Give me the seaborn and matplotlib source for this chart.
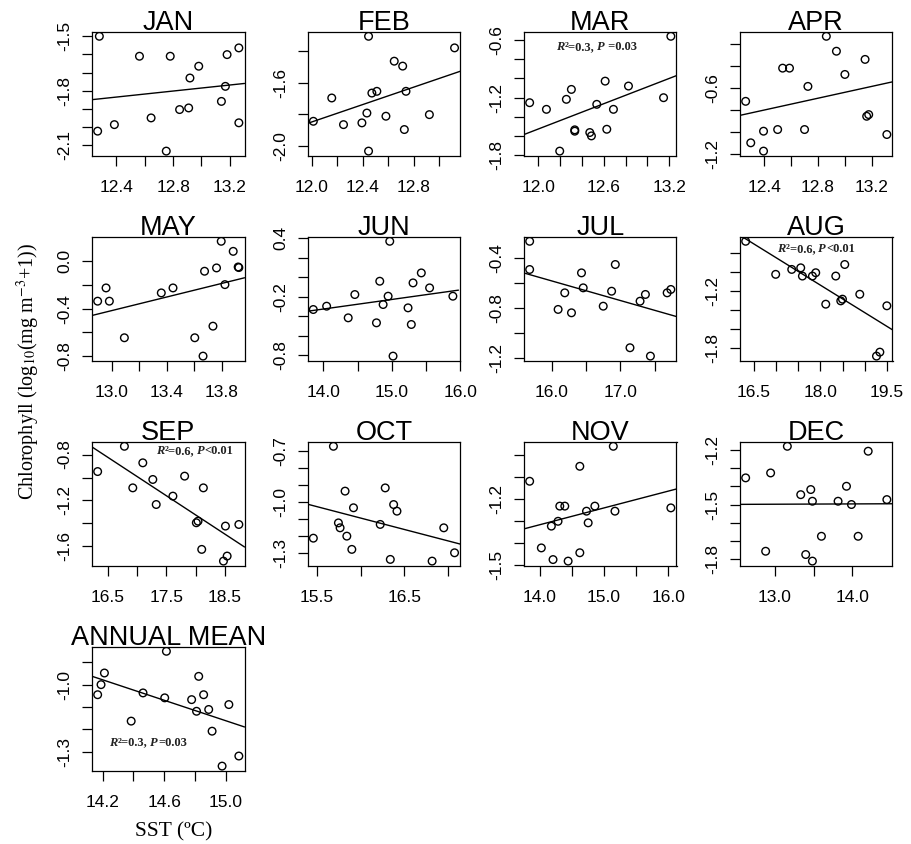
import numpy as np
import pandas as pd
import matplotlib
matplotlib.use("Agg")
import matplotlib.pyplot as plt
import seaborn as sns

sns.set_theme(style="white")
plt.rcParams['font.family'] = ['Liberation Sans', 'DejaVu Sans']
plt.rcParams['mathtext.fontset'] = 'stix'

# ---------------- data (SST in degC, chlorophyll log10(mg m-3 + 1)) ----------------
panels = ["JAN", "FEB", "MAR", "APR", "MAY", "JUN", "JUL", "AUG",
          "SEP", "OCT", "NOV", "DEC", "ANNUAL MEAN"]

jan_sst = [12.280, 12.268, 12.386, 12.563, 12.645, 12.752, 12.780, 12.846, 12.910, 12.919, 12.981, 13.141, 13.169, 13.181, 13.264, 13.264]
jan_chl = [-1.500, -2.023, -1.987, -1.610, -1.950, -2.133, -1.610, -1.904, -1.895, -1.730, -1.665, -1.859, -1.776, -1.601, -1.564, -1.977]

feb_sst = [12.013, 12.157, 12.249, 12.393, 12.432, 12.445, 12.445, 12.471, 12.510, 12.581, 12.646, 12.712, 12.725, 12.738, 12.921, 13.118]
feb_chl = [-1.843, -1.696, -1.864, -1.853, -1.791, -1.307, -2.031, -1.665, -1.654, -1.811, -1.464, -1.495, -1.895, -1.654, -1.801, -1.380]

mar_sst = [11.920, 12.074, 12.196, 12.257, 12.303, 12.334, 12.334, 12.472, 12.487, 12.536, 12.613, 12.628, 12.689, 12.827, 13.149, 13.216]
mar_chl = [-1.252, -1.321, -1.755, -1.217, -1.114, -1.534, -1.548, -1.562, -1.597, -1.269, -1.028, -1.528, -1.321, -1.079, -1.200, -0.562]

apr_sst = [12.262, 12.300, 12.395, 12.395, 12.500, 12.537, 12.588, 12.700, 12.725, 12.862, 12.937, 13.000, 13.150, 13.162, 13.177, 13.312]
apr_chl = [-0.720, -1.095, -0.990, -1.170, -0.975, -0.420, -0.420, -0.975, -0.585, -0.132, -0.267, -0.477, -0.341, -0.855, -0.840, -1.020]

may_sst = [12.898, 12.959, 12.983, 13.092, 13.360, 13.445, 13.603, 13.663, 13.674, 13.735, 13.761, 13.795, 13.822, 13.882, 13.918, 13.923]
may_chl = [-0.337, -0.225, -0.337, -0.646, -0.267, -0.225, -0.646, -0.801, -0.084, -0.548, -0.056, 0.169, -0.197, 0.084, -0.048, -0.053]

jun_sst = [13.854, 14.049, 14.364, 14.461, 14.777, 14.825, 14.874, 14.947, 14.971, 15.019, 15.238, 15.286, 15.311, 15.432, 15.553, 15.893]
jun_chl = [-0.331, -0.297, -0.416, -0.178, -0.467, -0.042, -0.280, -0.195, 0.366, -0.807, -0.314, -0.484, -0.059, 0.043, -0.110, -0.195]

jul_sst = [15.678, 15.678, 16.093, 16.190, 16.288, 16.434, 16.459, 16.751, 16.873, 16.927, 17.141, 17.288, 17.366, 17.439, 17.683, 17.737]
jul_chl = [-0.267, -0.493, -0.813, -0.680, -0.840, -0.520, -0.640, -0.787, -0.667, -0.453, -1.120, -0.747, -0.693, -1.187, -0.680, -0.653]

aug_sst = [16.312, 16.990, 17.352, 17.555, 17.593, 17.819, 17.894, 18.120, 18.346, 18.459, 18.497, 18.549, 18.888, 19.265, 19.341, 19.499]
aug_chl = [-0.676, -1.025, -0.973, -0.956, -1.043, -1.043, -1.008, -1.340, -1.043, -1.305, -1.287, -0.921, -1.235, -1.888, -1.846, -1.357]

sep_sst = [16.329, 16.786, 16.929, 17.100, 17.271, 17.329, 17.614, 17.814, 18.014, 18.043, 18.106, 18.134, 18.477, 18.511, 18.540, 18.740]
sep_chl = [-0.948, -0.728, -1.090, -0.872, -1.017, -1.235, -1.162, -0.988, -1.394, -1.380, -1.626, -1.090, -1.728, -1.423, -1.684, -1.409]

oct_sst = [15.462, 15.691, 15.748, 15.767, 15.824, 15.844, 15.901, 15.920, 16.225, 16.282, 16.340, 16.378, 16.416, 16.817, 16.950, 17.073]
oct_chl = [-1.212, -0.671, -1.122, -1.151, -0.935, -1.200, -1.278, -1.033, -1.131, -0.916, -1.337, -1.014, -1.053, -1.347, -1.151, -1.298]

nov_sst = [13.844, 14.026, 14.182, 14.208, 14.286, 14.313, 14.391, 14.443, 14.625, 14.625, 14.729, 14.755, 14.859, 15.146, 15.172, 16.042]
nov_chl = [-1.120, -1.423, -1.324, -1.476, -1.302, -1.233, -1.233, -1.483, -1.445, -1.052, -1.256, -1.309, -1.233, -0.961, -1.256, -1.241]

dec_sst = [12.627, 12.884, 12.948, 13.163, 13.335, 13.399, 13.464, 13.485, 13.485, 13.601, 13.815, 13.923, 13.987, 14.073, 14.202, 14.442]
dec_chl = [-1.353, -1.755, -1.326, -1.180, -1.445, -1.773, -1.417, -1.481, -1.809, -1.673, -1.481, -1.399, -1.499, -1.673, -1.207, -1.472]

ann_sst = [14.167, 14.189, 14.211, 14.385, 14.462, 14.603, 14.614, 14.778, 14.810, 14.824, 14.856, 14.889, 14.911, 14.976, 15.020, 15.085]
ann_chl = [-1.045, -1.000, -0.948, -1.163, -1.037, -1.059, -0.851, -1.067, -1.119, -0.963, -1.045, -1.111, -1.208, -1.364, -1.089, -1.319]

# tick positions and the subset that carries a label (as in the original R output)
x_ticks = [[12.4, 12.6, 12.8, 13.0, 13.2], [12.0, 12.2, 12.4, 12.6, 12.8, 13.0],
           [12.0, 12.2, 12.4, 12.6, 12.8, 13.0, 13.2], [12.4, 12.6, 12.8, 13.0, 13.2],
           [13.0, 13.2, 13.4, 13.6, 13.8], [14.0, 14.5, 15.0, 15.5, 16.0],
           [16.0, 16.5, 17.0, 17.5], [16.5, 17.0, 17.5, 18.0, 18.5, 19.0, 19.5],
           [16.5, 17.0, 17.5, 18.0, 18.5], [15.5, 16.0, 16.5, 17.0],
           [14.0, 14.5, 15.0, 15.5, 16.0], [13.0, 13.5, 14.0],
           [14.2, 14.4, 14.6, 14.8, 15.0]]
x_labels = [[12.4, 12.8, 13.2], [12.0, 12.4, 12.8], [12.0, 12.6, 13.2], [12.4, 12.8, 13.2],
            [13.0, 13.4, 13.8], [14.0, 15.0, 16.0], [16.0, 17.0], [16.5, 18.0, 19.5],
            [16.5, 17.5, 18.5], [15.5, 16.5], [14.0, 15.0, 16.0], [13.0, 14.0],
            [14.2, 14.6, 15.0]]
y_ticks = [[-1.5, -1.6, -1.7, -1.8, -1.9, -2.0, -2.1], [-1.4, -1.6, -1.8, -2.0],
           [-0.6, -0.8, -1.0, -1.2, -1.4, -1.6, -1.8], [-0.2, -0.4, -0.6, -0.8, -1.0, -1.2],
           [0.0, -0.2, -0.4, -0.6, -0.8], [0.4, 0.2, 0.0, -0.2, -0.4, -0.6, -0.8],
           [-0.4, -0.6, -0.8, -1.0, -1.2], [-0.8, -1.0, -1.2, -1.4, -1.6, -1.8],
           [-0.8, -1.0, -1.2, -1.4, -1.6], [-0.7, -0.8, -0.9, -1.0, -1.1, -1.2, -1.3],
           [-1.0, -1.1, -1.2, -1.3, -1.4, -1.5], [-1.2, -1.3, -1.4, -1.5, -1.6, -1.7, -1.8],
           [-0.9, -1.0, -1.1, -1.2, -1.3]]
y_labels = [[-1.5, -1.8, -2.1], [-1.6, -2.0], [-0.6, -1.2, -1.8], [-0.6, -1.2],
            [0.0, -0.4, -0.8], [0.4, -0.2, -0.8], [-0.4, -0.8, -1.2], [-1.2, -1.8],
            [-0.8, -1.2, -1.6], [-0.7, -1.0, -1.3], [-1.2, -1.5], [-1.2, -1.5, -1.8],
            [-1.0, -1.3]]

# regression statistics shown in four panels
stat_panels = ["MAR", "AUG", "SEP", "ANNUAL MEAN"]
stat_r2 = ["0.3", "0.6", "0.6", "0.3"]
stat_p = [" =0.03", "<0.01", "<0.01", "=0.03"]

sst_series = [jan_sst, feb_sst, mar_sst, apr_sst, may_sst, jun_sst, jul_sst, aug_sst,
              sep_sst, oct_sst, nov_sst, dec_sst, ann_sst]
chl_series = [jan_chl, feb_chl, mar_chl, apr_chl, may_chl, jun_chl, jul_chl, aug_chl,
              sep_chl, oct_chl, nov_chl, dec_chl, ann_chl]

# ---------------- layout ----------------
W, H = 912, 844
fig = plt.figure(figsize=(W / 100, H / 100), dpi=100, facecolor="white")

col_left = [92, 307.7, 524, 740]
row_top = [31.7, 236.7, 441.7, 646.7]
box_w, box_h = 152.5, 124
stat_pos = {"MAR": (0.21, 0.879), "AUG": (0.245, 0.900),
            "SEP": (0.42, 0.925), "ANNUAL MEAN": (0.112, 0.227)}


def fmt(v):
    return f"{v:.1f}"


def draw_stat(ax, x0, y0, r2, p):
    pieces = [("R", "italic", 9.0), ("\u00b2", "normal", 9.6), ("=" + r2 + ", ", "normal", 9.0),
              ("P", "italic", 9.0), (p, "normal", 9.0)]
    prev = None
    for s, style, size in pieces:
        kw = dict(fontsize=size, fontweight="bold", fontstyle=style, color="#222222",
                  family=["Liberation Serif", "DejaVu Serif"], va="center", ha="left")
        if prev is None:
            prev = ax.text(x0, y0, s, transform=ax.transAxes, **kw)
        else:
            prev = ax.annotate(s, xy=(1, 0.5), xycoords=prev, **kw)


for i, name in enumerate(panels):
    r, c = divmod(i, 4)
    left = col_left[c] / W
    bottom = 1 - (row_top[r] + box_h) / H
    ax = fig.add_axes([left, bottom, box_w / W, box_h / H])
    ax.set_facecolor("white")

    df = pd.DataFrame({"sst": sst_series[i], "chl": chl_series[i]})
    xlo, xhi = df["sst"].min(), df["sst"].max()
    ylo, yhi = df["chl"].min(), df["chl"].max()
    xp, yp = 0.04 * (xhi - xlo), 0.04 * (yhi - ylo)
    xlim = (xlo - xp, xhi + xp)
    ylim = (ylo - yp, yhi + yp)
    ax.set_xlim(*xlim)
    ax.set_ylim(*ylim)

    sns.regplot(data=df, x="sst", y="chl", ax=ax, ci=None, truncate=False, color="black",
                scatter_kws=dict(s=30, facecolors="none", edgecolors="black",
                                 linewidths=1.0, alpha=1, zorder=3),
                line_kws=dict(color="black", lw=1.0))
    ax.set_xlim(*xlim)
    ax.set_ylim(*ylim)
    ax.set_xlabel("")
    ax.set_ylabel("")

    xt = x_ticks[i]
    yt = y_ticks[i]
    ax.set_xticks(xt)
    ax.set_xticklabels([fmt(v) if any(np.isclose(v, x_labels[i])) else "" for v in xt])
    ax.set_yticks(yt)
    ax.set_yticklabels([fmt(v) if any(np.isclose(v, y_labels[i])) else "" for v in yt],
                       rotation=90, va="center")

    ax.tick_params(axis="both", which="major", direction="out", length=7.2, width=0.9,
                   colors="black", labelsize=12.5, bottom=True, left=True)
    ax.tick_params(axis="x", pad=10.5)
    ax.tick_params(axis="y", pad=7)
    for sp in ax.spines.values():
        sp.set_visible(True)
        sp.set_color("black")
        sp.set_linewidth(0.9)

    ax.set_title(name, fontsize=19.5, pad=1.5, color="black")

    if name in stat_panels:
        k = stat_panels.index(name)
        x0, y0 = stat_pos[name]
        draw_stat(ax, x0, y0, stat_r2[k], stat_p[k])

fig.text(0.031, 0.56, r"Chlorophyll (log$_{10}$(mg m$^{-3}$+1))", rotation=90,
         ha="center", va="center", fontsize=14.5,
         family=["Liberation Serif", "DejaVu Serif"], color="black")
fig.text(174 / W, 1 - 832 / H, "SST (\u00baC)", ha="center", va="center", fontsize=15.5,
         family=["Liberation Serif", "DejaVu Serif"], color="black")

fig.savefig("out.png", dpi=100, facecolor="white")
